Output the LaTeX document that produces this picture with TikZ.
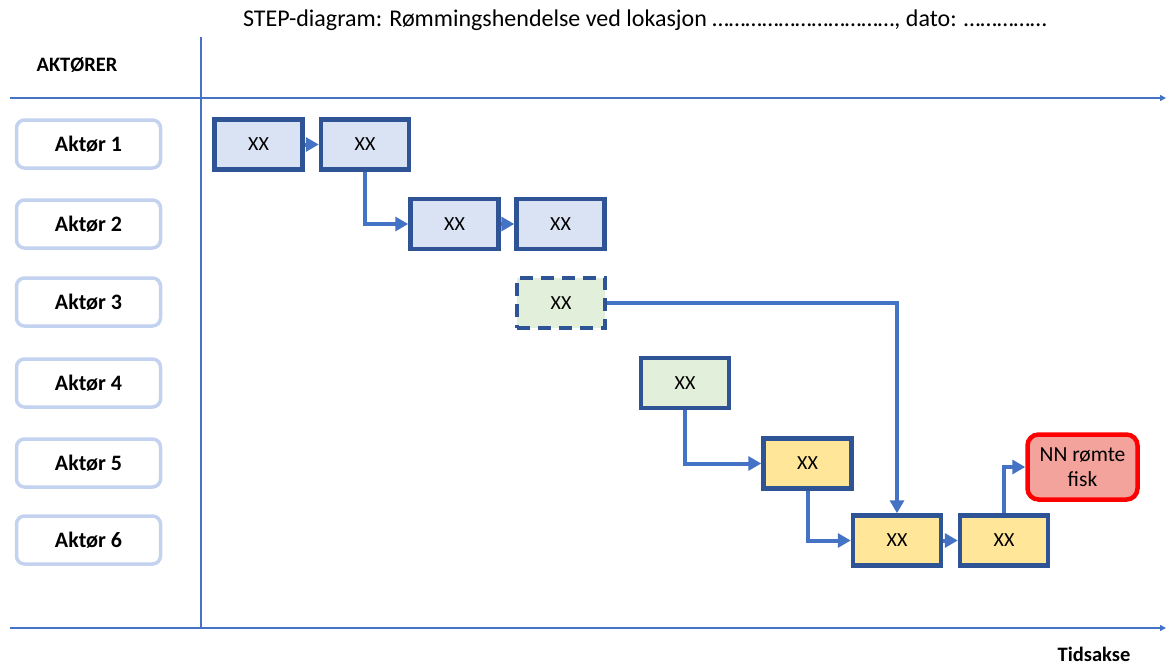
\documentclass[tikz,border=0pt]{standalone}
\usepackage{fontspec}
\setmainfont{Carlito}
\usetikzlibrary{arrows.meta}
\definecolor{boxline}{HTML}{2F5496}
\definecolor{conn}{HTML}{4472C4}
\definecolor{fblue}{HTML}{DAE3F3}
\definecolor{fgreen}{HTML}{E2EFDA}
\definecolor{fyellow}{HTML}{FFE699}
\definecolor{fred}{HTML}{F4A39C}
\definecolor{actline}{HTML}{C3D2EE}
\begin{document}
\begin{tikzpicture}[x=1pt,y=-1pt,
  event/.style={draw=boxline, line width=4.5pt, minimum width=88pt, minimum height=50pt, inner sep=0pt, font=\fontsize{20}{24}\selectfont},
  actor/.style={draw=actline, line width=3.5pt, fill=white, rounded corners=8pt, minimum width=144pt, minimum height=48pt, font=\fontsize{22}{24}\selectfont\bfseries},
  conn/.style={draw=conn, line width=4pt, -{Triangle[length=13pt,width=14pt]}},
  axisline/.style={draw=conn, line width=1.4pt},
  axisarrow/.style={axisline, -{Triangle[length=6pt,width=6pt]}},
  endbox/.style={draw=red, line width=4.5pt, fill=fred, rounded corners=11pt, minimum width=110pt, minimum height=65pt, align=center, font=\fontsize{21.5}{25}\selectfont}
]
\useasboundingbox (0,0) rectangle (1166,664);

% title and headers
\node[font=\fontsize{24}{28}\selectfont] (title) at (645,20) {STEP-diagram: Rømmingshendelse ved lokasjon ……………………………, dato: ……………};
\node[font=\fontsize{20.5}{24}\selectfont\bfseries] (aktorer) at (77,65) {AKTØRER};
\node[font=\fontsize{20.5}{24}\selectfont\bfseries] (tid) at (1094,654) {Tidsakse};

% axes
\coordinate (tl) at (10,98);
\coordinate (tr) at (1166,98);
\coordinate (bl) at (10,628);
\coordinate (br) at (1166,628);
\coordinate (vt) at (201,37);
\coordinate (vb) at (201,628);
\draw[axisarrow] (tl) -- (tr);
\draw[axisarrow] (bl) -- (br);
\draw[axisline] (vt) -- (vb);

% actors
\node[actor] (ak1) at (88.5,144) {Aktør 1};
\node[actor] (ak2) at (88.5,224) {Aktør 2};
\node[actor] (ak3) at (88.5,302) {Aktør 3};
\node[actor] (ak4) at (88.5,383) {Aktør 4};
\node[actor] (ak5) at (88.5,463) {Aktør 5};
\node[actor] (ak6) at (88.5,540) {Aktør 6};

% events
\node[event, fill=fblue] (a1a) at (258.5,144.5) {XX};
\node[event, fill=fblue] (a1b) at (365,144.5) {XX};
\node[event, fill=fblue] (a2a) at (454.5,224) {XX};
\node[event, fill=fblue] (a2b) at (560.5,224) {XX};
\node[event, fill=fgreen, dash pattern=on 13pt off 8pt] (a3) at (561,303) {XX};
\node[event, fill=fgreen] (a4) at (685,383) {XX};
\node[event, fill=fyellow] (a5) at (807.5,463.5) {XX};
\node[event, fill=fyellow] (a6a) at (897,540.5) {XX};
\node[event, fill=fyellow] (a6b) at (1004,540.5) {XX};
\node[endbox] (red) at (1082.5,467) {NN rømte\\fisk};

% connectors
\draw[conn] (a1a) -- (a1b);
\draw[conn] (a1b.south) |- (a2a.west);
\draw[conn] (a2a) -- (a2b);
\draw[conn] (a3.east) -| (a6a.north);
\draw[conn] (a4.south) |- (a5.west);
\draw[conn] (a5.south) |- (a6a.west);
\draw[conn] (a6a) -- (a6b);
\draw[conn] (a6b.north) |- (red.west);
\end{tikzpicture}
\end{document}
